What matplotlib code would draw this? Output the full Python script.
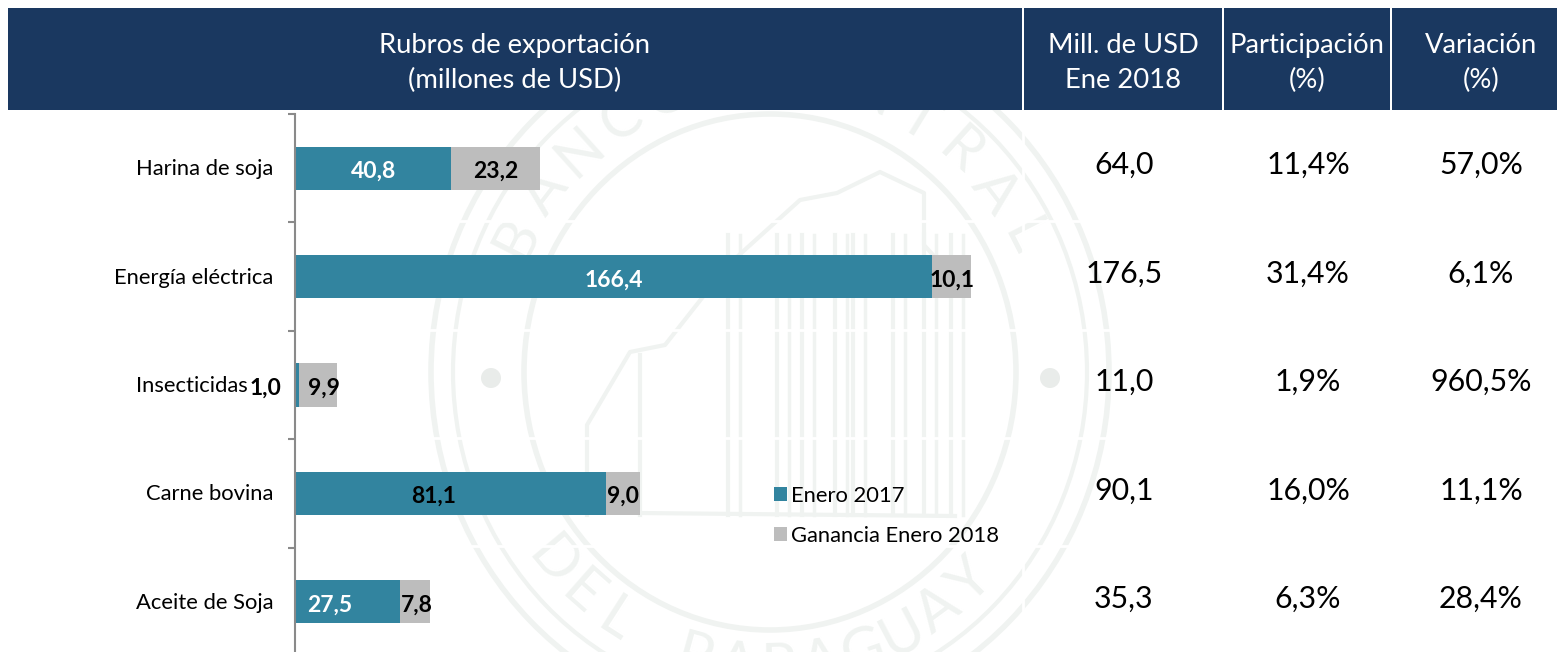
import numpy as np
import matplotlib
matplotlib.use("Agg")
import matplotlib.pyplot as plt
from matplotlib.patches import Ellipse, Circle, Rectangle

W, H = 1557, 652

categories = ["Harina de soja", "Energía eléctrica", "Insecticidas", "Carne bovina", "Aceite de Soja"]
enero_2017 = [40.8, 166.4, 1.0, 81.1, 27.5]
ganancia_2018 = [23.2, 10.1, 9.9, 9.0, 7.8]
labels_2017 = ["40,8", "166,4", "1,0", "81,1", "27,5"]
labels_2018 = ["23,2", "10,1", "9,9", "9,0", "7,8"]
colors_2017 = ["white", "white", "black", "black", "white"]
mill_usd = ["64,0", "176,5", "11,0", "90,1", "35,3"]
participacion = ["11,4%", "31,4%", "1,9%", "16,0%", "6,3%"]
variacion = ["57,0%", "6,1%", "960,5%", "11,1%", "28,4%"]

NAVY = "#1a3860"
TEAL = "#32849f"
GREY = "#bdbdbd"
SEAL = "#f0f3f1"
PX = 3.83  # pixels per million USD

plt.rcParams["font.family"] = ["Lato", "DejaVu Sans"]

fig = plt.figure(figsize=(W / 100, H / 100), dpi=100)

# page layer in pixel coordinates
bg = fig.add_axes([0, 0, 1, 1])
bg.set_xlim(0, W)
bg.set_ylim(H, 0)
bg.axis("off")

# seal in the background
cx, cy = 770, 378
for rx, ry, lw in [(339, 352, 4), (317, 330, 3), (246, 258, 4)]:
    bg.add_patch(Ellipse((cx, cy - 6), 2 * rx, 2 * ry, fill=False, ec=SEAL, lw=lw, zorder=0))
for dx in (-279, 280):
    bg.add_patch(Circle((cx + dx, cy), 10, fc="#e9ecea", ec="none", zorder=0))
for x in [728, 777, 802, 835, 853, 893, 924, 951]:
    bg.plot([x, x], [235, 515], color=SEAL, lw=3, zorder=0)
    bg.plot([x + 12, x + 12], [235, 515], color=SEAL, lw=2.5, zorder=0)
bg.plot([587, 587, 630, 665, 728, 800, 837, 880, 924, 924, 965],
        [515, 425, 352, 345, 265, 200, 193, 172, 193, 245, 290], color=SEAL, lw=3, zorder=0)
bg.plot([639, 955], [513, 516], color=SEAL, lw=3, zorder=0)
bg.plot([640, 640], [355, 515], color=SEAL, lw=3, zorder=0)

top_text = "BANCO CENTRAL"
for ch, a in zip(top_text, np.linspace(-63, 63, len(top_text))):
    t = np.radians(a)
    bg.text(cx + 284 * np.sin(t), cy - 6 - 296 * np.cos(t), ch, fontsize=42, color=SEAL,
            rotation=-a, ha="center", va="center", zorder=0, clip_on=True)
bottom_text = "DEL PARAGUAY"
for ch, a in zip(bottom_text, np.linspace(-50, 45, len(bottom_text))):
    t = np.radians(a)
    bg.text(cx + 284 * np.sin(t), cy - 6 + 296 * np.cos(t), ch, fontsize=42, color=SEAL,
            rotation=a, ha="center", va="center", zorder=0, clip_on=True)

# thin white strips that cut the seal
for y in [221, 330, 438, 546]:
    bg.plot([425, 1110], [y, y], color="white", lw=2, zorder=1)
bg.plot([1023, 1023], [110, H], color="white", lw=2, zorder=1)

# header
bg.add_patch(Rectangle((0, 0), W, 110, fc="white", ec="none", zorder=2))
for x0, x1 in [(8, 1022), (1024, 1222), (1224, 1390), (1392, 1557)]:
    bg.add_patch(Rectangle((x0, 8), x1 - x0, 102, fc=NAVY, ec="none", zorder=3))
headers = ["Rubros de exportación\n(millones de USD)", "Mill. de USD\nEne 2018",
           "Participación\n(%)", "Variación\n(%)"]
for x, h in zip([515, 1123, 1307, 1481], headers):
    bg.text(x, 63, h, color="white", fontsize=19.7, ha="center", va="center",
            linespacing=1.52, zorder=4)

# table columns
rows_y = [165, 274, 382, 491, 599]
for x, col in zip([1124, 1308, 1481], [mill_usd, participacion, variacion]):
    for y, v in zip(rows_y, col):
        bg.text(x, y, v, color="black", fontsize=21.8, ha="center", va="center", zorder=4)

# bars
ax = fig.add_axes([295 / W, 0, 727 / W, (H - 114) / H])
ax.patch.set_alpha(0)
y = np.arange(len(categories))
ax.barh(y, enero_2017, 0.4, color=TEAL, label="Enero 2017")
ax.barh(y, ganancia_2018, 0.4, left=enero_2017, color=GREY, label="Ganancia Enero 2018")
ax.set_xlim(0, 727 / PX)
ax.set_ylim(4.463, -0.5)

ax.set_yticks(np.arange(-0.5, 4.5))
ax.set_yticklabels([])
ax.tick_params(axis="y", direction="out", length=5, width=1.5, color="#8a8a8a")
ax.set_xticks([])
for s in ["top", "right", "bottom"]:
    ax.spines[s].set_visible(False)
ax.spines["left"].set_color("#8a8a8a")
ax.spines["left"].set_linewidth(1.5)

# labels sit off centre on some bars, nudges in pixels
nudge_2017 = {2: -31, 3: -17, 4: -18}
nudge_2018 = {2: 6, 4: 2}
for i, cat in enumerate(categories):
    right = -47 if i == 2 else -22
    ax.text(right / PX, i + 0.01, cat, ha="right", va="center", fontsize=15.8, color="black")
    x_a = enero_2017[i] / 2 + nudge_2017.get(i, 0) / PX
    ax.text(x_a, i + 0.03, labels_2017[i], ha="center", va="center", fontsize=16.5,
            color=colors_2017[i], fontweight="bold", clip_on=False)
    x_b = enero_2017[i] + ganancia_2018[i] / 2 + nudge_2018.get(i, 0) / PX
    ax.text(x_b, i + 0.03, labels_2018[i], ha="center", va="center", fontsize=16.5,
            color="black", fontweight="bold", clip_on=False)

ax.legend(loc="upper left", bbox_to_anchor=(479 / 727, (652 - 486) / (H - 114)),
          frameon=False, fontsize=15.8, handlelength=0.6, handleheight=0.6,
          handletextpad=0.18, labelspacing=0.9, borderpad=0, borderaxespad=0)

fig.savefig("out.png", dpi=100)
